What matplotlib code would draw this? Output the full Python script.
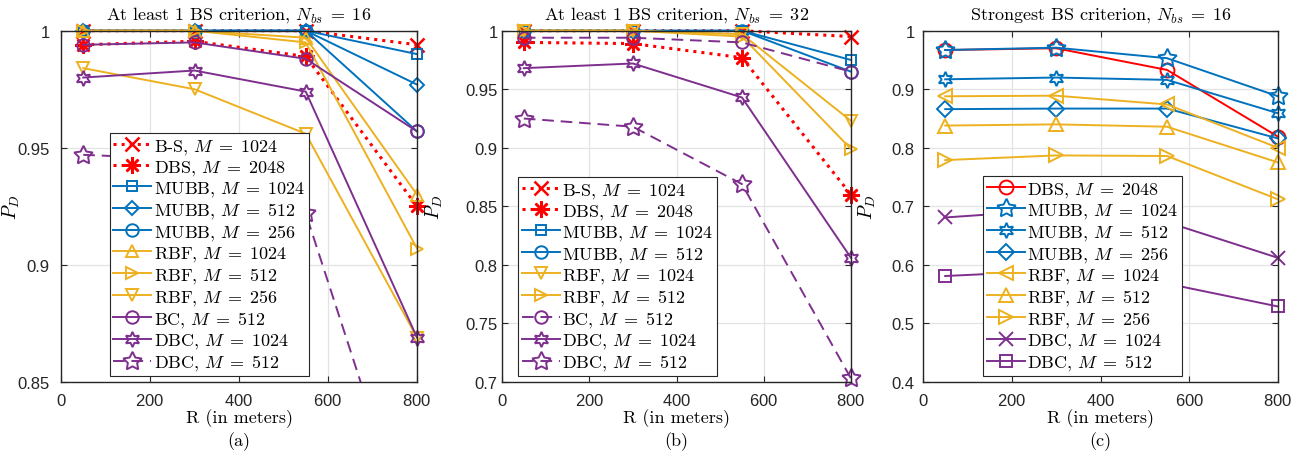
import matplotlib
matplotlib.use('Agg')
import matplotlib.pyplot as plt
from matplotlib.ticker import FuncFormatter

plt.rcParams['font.family'] = 'cmr10'
plt.rcParams['mathtext.fontset'] = 'cm'
plt.rcParams['axes.formatter.use_mathtext'] = True

BLUE = '#0072BD'
YELLOW = '#EDB120'
PURPLE = '#7E2F8E'
RED = '#FF0000'
DARK = '#262626'

R = [50, 300, 550, 800]

# (a) at least 1 BS, Nbs = 16
a_bs_1024 = [1.0, 1.0, 1.0, 0.994]
a_dbs_2048 = [0.994, 0.9955, 0.989, 0.925]
a_mubb_1024 = [1.0, 1.0, 1.0, 0.990]
a_mubb_512 = [1.0, 1.0, 1.0, 0.977]
a_mubb_256 = [1.0, 1.0, 1.0, 0.957]
a_rbf_1024 = [1.0, 1.0, 0.997, 0.930]
a_rbf_512 = [1.0, 1.0, 0.995, 0.907]
a_rbf_256 = [0.984, 0.975, 0.956, 0.869]
a_bc_512 = [0.994, 0.995, 0.988, 0.957]
a_dbc_1024 = [0.980, 0.983, 0.974, 0.869]
a_dbc_512 = [0.947, 0.945, 0.922, 0.776]

# (b) at least 1 BS, Nbs = 32
b_bs_1024 = [1.0, 1.0, 1.0, 0.995]
b_dbs_2048 = [0.990, 0.989, 0.977, 0.860]
b_mubb_1024 = [1.0, 1.0, 1.0, 0.975]
b_mubb_512 = [1.0, 1.0, 1.0, 0.965]
b_rbf_1024 = [1.0, 1.0, 0.997, 0.923]
b_rbf_512 = [1.0, 1.0, 0.995, 0.899]
b_bc_512 = [0.994, 0.994, 0.990, 0.965]
b_dbc_1024 = [0.968, 0.972, 0.943, 0.806]
b_dbc_512 = [0.925, 0.918, 0.869, 0.703]

# (c) strongest BS, Nbs = 16
c_dbs_2048 = [0.967, 0.970, 0.933, 0.819]
c_mubb_1024 = [0.967, 0.971, 0.953, 0.888]
c_mubb_512 = [0.917, 0.920, 0.916, 0.859]
c_mubb_256 = [0.866, 0.867, 0.867, 0.816]
c_rbf_1024 = [0.888, 0.889, 0.874, 0.800]
c_rbf_512 = [0.838, 0.840, 0.836, 0.775]
c_rbf_256 = [0.779, 0.787, 0.786, 0.712]
c_dbc_1024 = [0.681, 0.694, 0.673, 0.612]
c_dbc_512 = [0.581, 0.590, 0.568, 0.529]

HEX = (6, 1, 0)
PENT = (5, 1, 0)
AST = (8, 2, 0)


def style(color, ls, marker, ms=8):
    st = dict(color=color, marker=marker, markersize=ms,
              markerfacecolor='none', markeredgecolor=color)
    if ls == '--':
        st['linestyle'] = (0, (6, 3.5))
    else:
        st['linestyle'] = ls
    return st


def lab(name, m):
    return r'%s, $M\;=\;%d$' % (name, m)


panel_a = [
    (lab('B-S', 1024), a_bs_1024, style(RED, ':', 'x', 10), 2.2),
    (lab('DBS', 2048), a_dbs_2048, style(RED, ':', AST, 12), 2.2),
    (lab('MUBB', 1024), a_mubb_1024, style(BLUE, '-', 's', 7), 1.4),
    (lab('MUBB', 512), a_mubb_512, style(BLUE, '-', 'D', 7), 1.4),
    (lab('MUBB', 256), a_mubb_256, style(BLUE, '-', 'o', 9), 1.4),
    (lab('RBF', 1024), a_rbf_1024, style(YELLOW, '-', '^', 9), 1.4),
    (lab('RBF', 512), a_rbf_512, style(YELLOW, '-', '>', 9), 1.4),
    (lab('RBF', 256), a_rbf_256, style(YELLOW, '-', 'v', 9), 1.4),
    (lab('BC', 512), a_bc_512, style(PURPLE, '-', 'o', 9), 1.4),
    (lab('DBC', 1024), a_dbc_1024, style(PURPLE, '-', HEX, 11), 1.4),
    (lab('DBC', 512), a_dbc_512, style(PURPLE, '--', PENT, 14), 1.4),
]

panel_b = [
    (lab('B-S', 1024), b_bs_1024, style(RED, ':', 'x', 10), 2.2),
    (lab('DBS', 2048), b_dbs_2048, style(RED, ':', AST, 12), 2.2),
    (lab('MUBB', 1024), b_mubb_1024, style(BLUE, '-', 's', 7), 1.4),
    (lab('MUBB', 512), b_mubb_512, style(BLUE, '-', 'o', 9), 1.4),
    (lab('RBF', 1024), b_rbf_1024, style(YELLOW, '-', 'v', 9), 1.4),
    (lab('RBF', 512), b_rbf_512, style(YELLOW, '-', '>', 9), 1.4),
    (lab('BC', 512), b_bc_512, style(PURPLE, '--', 'o', 9), 1.4),
    (lab('DBC', 1024), b_dbc_1024, style(PURPLE, '-', HEX, 11), 1.4),
    (lab('DBC', 512), b_dbc_512, style(PURPLE, '--', PENT, 14), 1.4),
]

panel_c = [
    (lab('DBS', 2048), c_dbs_2048, style(RED, '-', 'o', 10), 1.4),
    (lab('MUBB', 1024), c_mubb_1024, style(BLUE, '-', PENT, 14), 1.4),
    (lab('MUBB', 512), c_mubb_512, style(BLUE, '-', HEX, 11), 1.4),
    (lab('MUBB', 256), c_mubb_256, style(BLUE, '-', 'D', 8), 1.4),
    (lab('RBF', 1024), c_rbf_1024, style(YELLOW, '-', '<', 10), 1.4),
    (lab('RBF', 512), c_rbf_512, style(YELLOW, '-', '^', 10), 1.4),
    (lab('RBF', 256), c_rbf_256, style(YELLOW, '-', '>', 10), 1.4),
    (lab('DBC', 1024), c_dbc_1024, style(PURPLE, '-', 'x', 10), 1.4),
    (lab('DBC', 512), c_dbc_512, style(PURPLE, '-', 's', 8), 1.4),
]

fig = plt.figure(figsize=(13.05, 4.56), dpi=100)
W, H = 1305.0, 456.0

panels = [
    # (px left, px right, series, ylim, yticks, title, tag, ylabel x, tick pad, legend x)
    (61, 417, panel_a, (0.85, 1.0), [0.85, 0.9, 0.95, 1.0],
     r'At least 1 BS criterion, $N_{bs}\;=\;16$', '(a)', -0.11, 8, 0.137),
    (502, 851, panel_b, (0.7, 1.0), [0.7, 0.75, 0.8, 0.85, 0.9, 0.95, 1.0],
     r'At least 1 BS criterion, $N_{bs}\;=\;32$', '(b)', -0.163, 3, 0.046),
    (923, 1278, panel_c, (0.4, 1.0), [0.4, 0.5, 0.6, 0.7, 0.8, 0.9, 1.0],
     r'Strongest BS criterion, $N_{bs}\;=\;16$', '(c)', -0.127, 6, 0.169),
]

top_px, bot_px = 31.7, 383.0

for left, right, series, ylim, yticks, title, tag, ylx, tpad, lgx in panels:
    ax = fig.add_axes([left / W, 1 - bot_px / H, (right - left) / W, (bot_px - top_px) / H])
    for label, vals, st, lw in series:
        clip = min(vals) < ylim[0]
        ax.plot(R, vals, label=label, linewidth=lw, markeredgewidth=1.4 if lw < 2 else 1.8,
                clip_on=clip, **st)
    ax.set_xlim(0, 800)
    ax.set_ylim(*ylim)
    ax.set_xticks([0, 200, 400, 600, 800])
    ax.set_yticks(yticks)
    ax.yaxis.set_major_formatter(FuncFormatter(lambda v, p: '%g' % round(v, 3)))
    ax.grid(True, color='#e3e3e3', linewidth=0.9)
    ax.set_axisbelow(True)
    for sp in ax.spines.values():
        sp.set_color(DARK)
        sp.set_linewidth(1.0)
    ax.tick_params(direction='in', top=True, right=True, length=4, color=DARK,
                   labelcolor=DARK, labelsize=12, labelfontfamily='Liberation Sans')
    ax.tick_params(axis='y', pad=tpad)
    ax.tick_params(axis='x', pad=7)
    ax.set_title(title, fontsize=13, pad=9)
    ax.set_xlabel('R (in meters)', fontsize=13)
    ax.xaxis.set_label_coords(0.5, -0.075)
    ax.set_ylabel('$P_D$', fontsize=14)
    ax.yaxis.set_label_coords(ylx, 0.5)
    ax.text(0.5, -0.14, tag, transform=ax.transAxes, ha='center', va='top', fontsize=13)
    leg = ax.legend(loc='lower left', bbox_to_anchor=(lgx, 0.017), borderaxespad=0,
                    fontsize=13, numpoints=1, handlelength=2.1, handletextpad=0.15,
                    labelspacing=0.12, borderpad=0.2, fancybox=False, framealpha=1,
                    edgecolor=DARK)
    leg.get_frame().set_linewidth(0.8)

plt.savefig('out.png', dpi=100)
